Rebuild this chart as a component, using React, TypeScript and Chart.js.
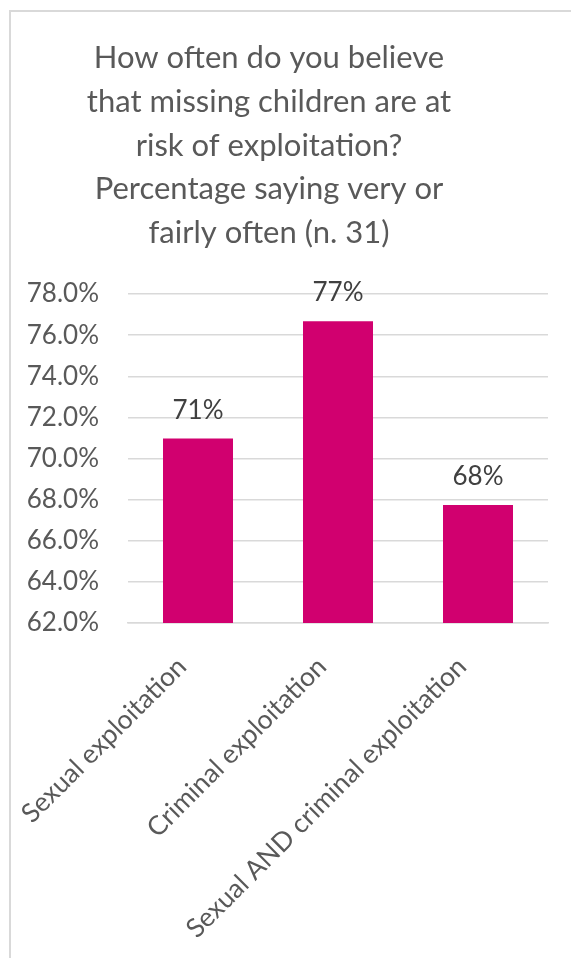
import React, { useEffect, useRef } from "react";
import { Chart, registerables } from "chart.js";

Chart.register(...registerables);

const categories = [
  "Sexual exploitation",
  "Criminal exploitation",
  "Sexual AND criminal exploitation",
];
const values = [70.97, 76.67, 67.74];
const yMin = 62;
const yMax = 78;
const yStep = 2;
const titleLines = [
  "How often do you believe",
  "that missing children are at",
  "risk of exploitation?",
  "Percentage saying very or",
  "fairly often (n. 31)",
];

const FONT = "Lato, 'Open Sans', sans-serif";
const BAR_COLOR = "#D1006F";
const TEXT_GRAY = "#595959";
const LABEL_DARK = "#404040";
const GRID = "#D9D9D9";

const framePlugin = {
  id: "frameAndTitle",
  beforeDraw(chart: any) {
    const ctx = chart.ctx;
    ctx.save();
    ctx.fillStyle = "#ffffff";
    ctx.fillRect(0, 0, chart.width, chart.height);
    ctx.strokeStyle = GRID;
    ctx.lineWidth = 2;
    ctx.beginPath();
    ctx.moveTo(10, chart.height);
    ctx.lineTo(10, 11);
    ctx.lineTo(chart.width, 11);
    ctx.stroke();
    ctx.fillStyle = TEXT_GRAY;
    ctx.font = `31px ${FONT}`;
    ctx.textAlign = "center";
    ctx.textBaseline = "alphabetic";
    titleLines.forEach((line, i) => {
      ctx.fillText(line, 269, 68 + i * 43.75);
    });
    ctx.restore();
  },
  afterDatasetsDraw(chart: any) {
    const ctx = chart.ctx;
    const meta = chart.getDatasetMeta(0);
    ctx.save();
    ctx.fillStyle = LABEL_DARK;
    ctx.font = `26px ${FONT}`;
    ctx.textAlign = "center";
    ctx.textBaseline = "alphabetic";
    meta.data.forEach((bar: any, i: number) => {
      const v = chart.data.datasets[0].data[i] as number;
      ctx.fillText(Math.round(v) + "%", bar.x, bar.y - 20);
    });
    ctx.restore();
  },
};

export default function App() {
  const ref = useRef<HTMLCanvasElement | null>(null);
  useEffect(() => {
    if (!ref.current) return;
    const chart = new Chart(ref.current, {
      type: "bar",
      data: {
        labels: categories,
        datasets: [
          {
            data: values,
            backgroundColor: BAR_COLOR,
            barPercentage: 0.5,
            categoryPercentage: 1.0,
          },
        ],
      },
      options: {
        animation: false,
        responsive: false,
        devicePixelRatio: 1,
        layout: { padding: { top: 294, right: 23, left: 0, bottom: 0 } },
        plugins: {
          legend: { display: false },
          title: { display: false },
          tooltip: { enabled: false },
        },
        scales: {
          x: {
            grid: { display: false, drawTicks: false },
            border: { display: true, color: GRID, width: 1.5 },
            ticks: {
              color: TEXT_GRAY,
              font: { family: FONT, size: 26.5 },
              minRotation: 45,
              maxRotation: 45,
              padding: 28,
              labelOffset: -16,
              autoSkip: false,
            },
            afterFit(scale: any) {
              scale.height = 958 - 623;
              scale.paddingLeft = 0;
              scale.paddingRight = 0;
            },
          },
          y: {
            min: yMin,
            max: yMax,
            grid: { color: GRID, lineWidth: 1.5, drawTicks: false },
            border: { display: false },
            ticks: {
              stepSize: yStep,
              color: TEXT_GRAY,
              font: { family: FONT, size: 26 },
              padding: 29,
              callback: (v: any) => Number(v).toFixed(1) + "%",
            },
            afterFit(scale: any) {
              scale.width = 128;
              scale.paddingTop = 0;
              scale.paddingBottom = 0;
            },
          },
        },
      },
      plugins: [framePlugin],
    });
    return () => chart.destroy();
  }, []);
  return (
    <canvas
      ref={ref}
      width={571}
      height={958}
      style={{ position: "absolute", left: 0, top: 0, width: 571, height: 958 }}
    />
  );
}
